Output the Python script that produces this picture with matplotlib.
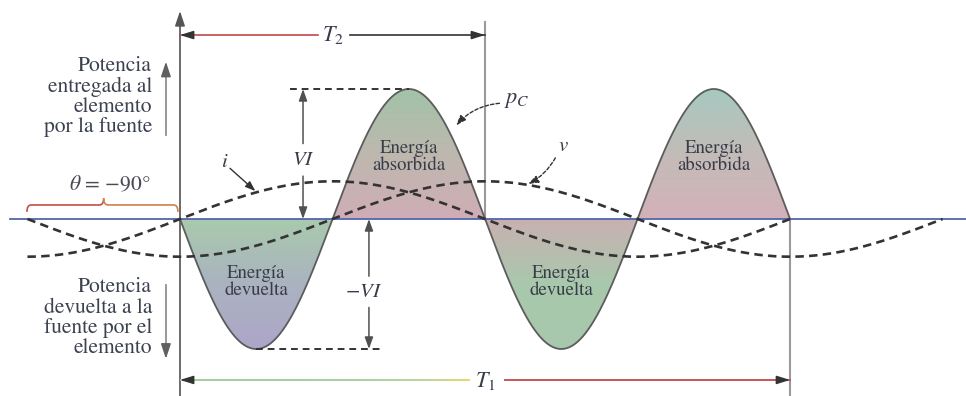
import numpy as np
import matplotlib.pyplot as plt
from matplotlib.colors import LinearSegmentedColormap
from matplotlib.collections import LineCollection
from matplotlib.patches import Polygon, PathPatch
from matplotlib.path import Path

plt.rcParams['font.family'] = ['STIXGeneral', 'DejaVu Serif']
plt.rcParams['mathtext.fontset'] = 'stix'

# angulos en grados (0 = eje vertical), amplitudes en unidades de VI
VI = 1.0
amp_vi = 0.29
span_v = [-90, 450]
span_i = [-90, 360]
span_p = [0, 360]
lobes = [(0, 90), (90, 180), (180, 270), (270, 360)]
lobe_labels = ['Energía\ndevuelta', 'Energía\nabsorbida', 'Energía\ndevuelta', 'Energía\nabsorbida']
lobe_colors = [
    ['#a9caac', '#aab3c0', '#aea5c9'],
    ['#a2c3a8', '#bdb8ae', '#d0adb5'],
    ['#c9b0b2', '#a9c8ac', '#a7c8ac'],
    ['#a6c9c0', '#c3bcb8', '#d4b1ba'],
]

txt = '#383c48'
dash_col = '#333333'

fig = plt.figure(figsize=(9.66, 3.96), dpi=100)
ax = fig.add_axes([0, 0, 1, 1])
ax.axis('off')
XL = (-106.2, 463.8)
YL = (-1.3615, 1.6846)


def v_of(t):
    return -amp_vi * np.cos(np.radians(t))


def i_of(t):
    return amp_vi * np.sin(np.radians(t))


def p_of(t):
    return -VI * np.sin(np.radians(2 * t))


def arrow(x0, y0, x1, y1, color='#444444', lw=1.1, ls='-', rad=0.0, hl=0.7, hw=0.25):
    ax.annotate('', xy=(x1, y1), xytext=(x0, y0),
                arrowprops=dict(arrowstyle=f'-|>,head_length={hl},head_width={hw}',
                                color=color, lw=lw, linestyle=ls, shrinkA=0, shrinkB=0,
                                mutation_scale=10,
                                connectionstyle=f'arc3,rad={rad}'))


# lobulos de potencia con relleno degradado
for (a, b), colors, label in zip(lobes, lobe_colors, lobe_labels):
    t = np.linspace(a, b, 200)
    p = p_of(t)
    verts = np.column_stack([np.r_[t, t[::-1]], np.r_[p, np.zeros_like(p)]])
    poly = Polygon(verts, closed=True, fc='none', ec='none')
    ax.add_patch(poly)
    cmap = LinearSegmentedColormap.from_list('lobe', colors)
    grad = np.linspace(0, 1, 256).reshape(-1, 1)
    up = p_of((a + b) / 2) > 0
    y0, y1 = (0, VI) if up else (-VI, 0)
    im = ax.imshow(grad, cmap=cmap, aspect='auto', origin='upper',
                   extent=[a, b, y0, y1], zorder=1)
    im.set_clip_path(poly)
    ym = 0.477 if up else -0.483
    ax.text((a + b) / 2, ym, label, ha='center', va='center', fontsize=13.5,
            color=txt, linespacing=1.0, zorder=5)

tp = np.linspace(*span_p, 800)
ax.plot(tp, p_of(tp), color='#5c5c5c', lw=1.3, zorder=3)

# eje horizontal y lineas de referencia
ax.plot([-100.3, XL[1]], [0, 0], color='#5465ad', lw=1.3, zorder=4)
ax.plot([0, 0], [YL[0], 1.55], color='#6a6a6a', lw=1.4, zorder=2)
arrow(0, 1.5, 0, 1.6, color='#555555', hl=0.9, hw=0.3)
ax.plot([180, 180], [0, 1.515], color='#9a9a9a', lw=1.5, zorder=2)
ax.plot([360, 360], [YL[0], 0], color='#9a9a9a', lw=1.5, zorder=2)

# v e i
tv = np.linspace(*span_v, 800)
ti = np.linspace(*span_i, 700)
ax.plot(tv, v_of(tv), color=dash_col, lw=1.9, dashes=(3.2, 2.0), zorder=4)
ax.plot(ti, i_of(ti), color=dash_col, lw=1.9, dashes=(3.2, 2.0), zorder=4)

# niveles VI y -VI
ax.plot([64.9, 135], [VI, VI], color=dash_col, lw=1.4, dashes=(3.5, 2.5), zorder=4)
ax.plot([45, 119.8], [-VI, -VI], color=dash_col, lw=1.4, dashes=(3.5, 2.5), zorder=4)
arrow(72.6, 0.58, 72.6, VI, color='#505050')
arrow(72.6, 0.33, 72.6, 0.0, color='#505050')
ax.text(72.6, 0.454, '$VI$', ha='center', va='center', fontsize=15, color=txt)
arrow(111.5, -0.44, 111.5, 0.0, color='#505050')
arrow(111.5, -0.68, 111.5, -VI, color='#505050')
ax.text(108.5, -0.56, '$-VI$', ha='center', va='center', fontsize=15, color=txt)

# T2
ax.plot([0, 81.4], [1.415, 1.415], color='#c04848', lw=1.2)
ax.plot([100.3, 180], [1.415, 1.415], color='#333333', lw=1.2)
arrow(5, 1.415, 0, 1.415, color='#333333', hl=0.8)
arrow(175, 1.415, 180, 1.415, color='#333333', hl=0.8)
ax.text(90.5, 1.415, '$T_2$', ha='center', va='center', fontsize=16, color=txt)

# T1 con degradado verde-amarillo-rojo
xs = np.linspace(0, 171, 120)
segs = [[(xs[k], -1.238), (xs[k + 1], -1.238)] for k in range(len(xs) - 1)]
t1map = LinearSegmentedColormap.from_list('t1', ['#9fcf9c', '#a6d0a0', '#b8d69a', '#e6d76a'])
lc = LineCollection(segs, colors=t1map(np.linspace(0, 1, len(segs)) ** 2.2), lw=1.4)
ax.add_collection(lc)
ax.plot([191.8, 360], [-1.238, -1.238], color='#c65656', lw=1.4)
arrow(5, -1.238, 0, -1.238, color='#333333', hl=0.8)
arrow(355, -1.238, 360, -1.238, color='#333333', hl=0.8)
ax.text(180, -1.245, '$T_1$', ha='center', va='center', fontsize=16, color=txt)

# etiquetas de curvas
ax.text(26.6, 0.44, '$i$', ha='center', va='center', fontsize=15, color=txt)
arrow(29.5, 0.39, 44.5, 0.215, color='#333333', lw=1.0, hl=0.6, hw=0.22)
ax.text(226.5, 0.56, '$v$', ha='center', va='center', fontsize=15, color=txt)
arrow(221.5, 0.47, 205.5, 0.27, color='#333333', lw=1.0, ls=(0, (2.5, 1.5)), rad=-0.15, hl=0.6, hw=0.22)
ax.text(198.5, 0.915, '$p_C$', ha='center', va='center', fontsize=16, color=txt)
arrow(188.5, 0.89, 163.0, 0.72, color='#333333', lw=1.0, ls=(0, (2.5, 1.5)), rad=0.2, hl=0.6, hw=0.22)

# textos laterales
ax.text(-16.5, 0.94, 'Potencia\nentregada al\nelemento\npor la fuente', ha='right', va='center',
        fontsize=15.5, color='#3b4150', linespacing=1.02)
ax.text(-16.5, -0.76, 'Potencia\ndevuelta a la\nfuente por el\nelemento', ha='right', va='center',
        fontsize=15.5, color='#3b4150', linespacing=1.02)
ax.plot([-8.3, -8.3], [0.646, 1.12], color='#909090', lw=1.3)
arrow(-8.3, 1.1, -8.3, 1.21, color='#606060', hl=0.9, hw=0.3)
ax.plot([-8.3, -8.3], [-0.508, -0.99], color='#909090', lw=1.3)
arrow(-8.3, -0.97, -8.3, -1.075, color='#606060', hl=0.9, hw=0.3)

# llave del desfase
yb, y0, yt = 0.055, 0.108, 0.16
xa, xm, xb = -90.3, -45.0, -1.2
left = Path([(xa, yb), (xa, y0), (xa + 2.5, y0), (xm - 2.5, y0), (xm, y0), (xm, yt)],
            [Path.MOVETO, Path.CURVE3, Path.CURVE3, Path.LINETO, Path.CURVE3, Path.CURVE3])
right = Path([(xm, yt), (xm, y0), (xm + 2.5, y0), (xb - 2.5, y0), (xb, y0), (xb, yb)],
             [Path.MOVETO, Path.CURVE3, Path.CURVE3, Path.LINETO, Path.CURVE3, Path.CURVE3])
ax.add_patch(PathPatch(left, fc='none', ec='#c0504c', lw=1.2))
ax.add_patch(PathPatch(right, fc='none', ec='#d2804e', lw=1.2))
ax.text(-41.3, 0.26, '$\\theta$ = −90°', ha='center', va='center', fontsize=15.5, color='#4a4a55')

ax.set_xlim(*XL)
ax.set_ylim(*YL)
fig.savefig('out.png', dpi=100)
